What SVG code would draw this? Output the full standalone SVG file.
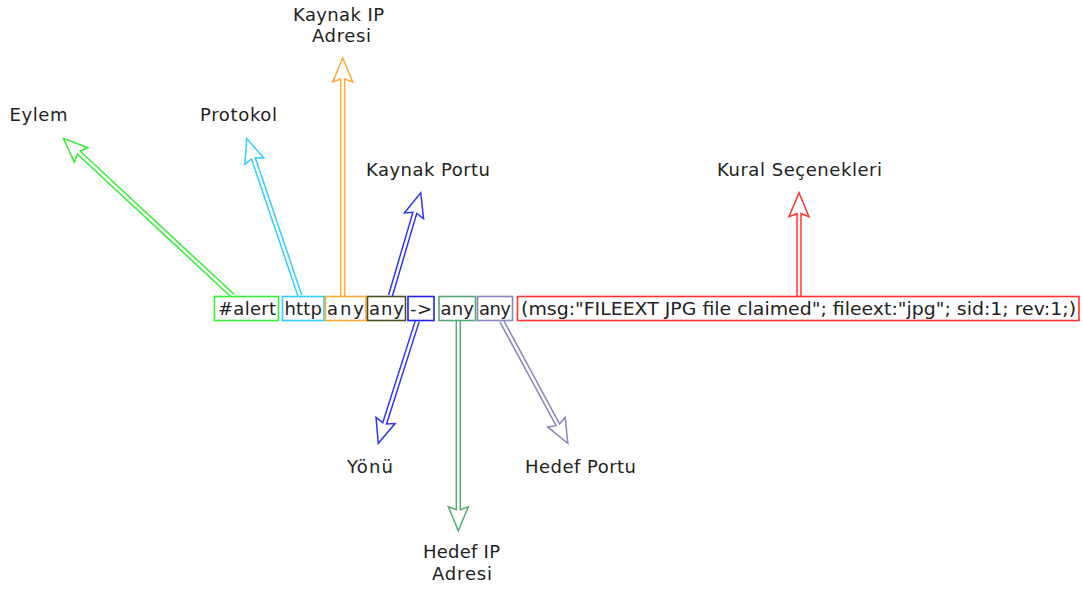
<svg xmlns="http://www.w3.org/2000/svg" width="1083" height="589" viewBox="0 0 1083 589">
<style>
text{font-family:"DejaVu Sans","Liberation Sans",sans-serif;fill:#222}
.box{fill:#fff;stroke-width:1.6}
.bt{font-size:18px}
.lb{font-size:18px}
.arr{fill:none;stroke-width:1.5;stroke-linejoin:miter}
</style>
<rect width="1083" height="589" fill="#fff"/>
<g id="connectors">
<path class="arr" stroke="#33ee33" transform="translate(233,296) rotate(-137.1)" d="M0,-2 H210.4 L207.4,-10 L231.4,0 L207.4,10 L210.4,2 H0"/>
<path class="arr" stroke="#33ccff" transform="translate(300,296) rotate(-108.7)" d="M0,-2 H145.3 L142.3,-10 L166.3,0 L142.3,10 L145.3,2 H0"/>
<path class="arr" stroke="#ffaa33" transform="translate(342.7,296) rotate(-90)" d="M0,-2 H217 L214,-10 L238,0 L214,10 L217,2 H0"/>
<path class="arr" stroke="#3333ff" transform="translate(390.5,295.5) rotate(-73.6)" d="M0,-2 H86.1 L83.1,-10 L107.1,0 L83.1,10 L86.1,2 H0"/>
<path class="arr" stroke="#3333ff" transform="translate(417.3,321) rotate(107.7)" d="M0,-2 H107.4 L104.4,-10 L128.4,0 L104.4,10 L107.4,2 H0"/>
<path class="arr" stroke="#55aa77" transform="translate(458.3,321) rotate(90)" d="M0,-2 H188.7 L185.7,-10 L209.7,0 L185.7,10 L188.7,2 H0"/>
<path class="arr" stroke="#8888bb" transform="translate(501.7,321) rotate(61.6)" d="M0,-2 H118 L115,-10 L139,0 L115,10 L118,2 H0"/>
<path class="arr" stroke="#ff3333" transform="translate(799,296) rotate(-90)" d="M0,-2 H82.3 L79.3,-10 L103.3,0 L79.3,10 L82.3,2 H0"/>
</g>
<g id="n-action"><rect class="box" x="214.5" y="296.5" width="64" height="24" stroke="#33ee33"/><text class="bt" x="218" y="315" textLength="58" lengthAdjust="spacing">#alert</text></g>
<g id="n-proto"><rect class="box" x="282.5" y="296.5" width="41.5" height="24" stroke="#33ccff"/><text class="bt" x="284.5" y="315" textLength="37.5" lengthAdjust="spacing">http</text></g>
<g id="n-srcip"><rect class="box" x="325.5" y="296.5" width="40.5" height="24" stroke="#ffaa33"/><text class="bt" x="327" y="315" textLength="37" lengthAdjust="spacing">any</text></g>
<g id="n-srcport"><rect class="box" x="367.5" y="296.5" width="38" height="24" stroke="#4d4d22"/><text class="bt" x="369" y="315" textLength="35" lengthAdjust="spacing">any</text></g>
<g id="n-dir"><rect class="box" x="408" y="296.5" width="26" height="24" stroke="#2222ee"/><text class="bt" x="410" y="315" textLength="22" lengthAdjust="spacing">-&gt;</text></g>
<g id="n-dstip"><rect class="box" x="439" y="296.5" width="36.5" height="24" stroke="#55aa77"/><text class="bt" x="440.5" y="315" textLength="33.5" lengthAdjust="spacing">any</text></g>
<g id="n-dstport"><rect class="box" x="477.5" y="296.5" width="35" height="24" stroke="#8888bb"/><text class="bt" x="479" y="315" textLength="32" lengthAdjust="spacing">any</text></g>
<g id="n-opts"><rect class="box" x="517.5" y="296.5" width="561.5" height="24" stroke="#ff3333"/><text class="bt" x="521" y="315" textLength="555" lengthAdjust="spacingAndGlyphs">(msg:"FILEEXT JPG file claimed"; fileext:"jpg"; sid:1; rev:1;)</text></g>
<g id="labels">
<text class="lb" x="9.5" y="120.5" textLength="58" lengthAdjust="spacing">Eylem</text>
<text class="lb" x="200" y="120.5" textLength="77" lengthAdjust="spacing">Protokol</text>
<text class="lb" x="293" y="20.5" textLength="91" lengthAdjust="spacing">Kaynak IP</text>
<text class="lb" x="312" y="41.5" textLength="59" lengthAdjust="spacing">Adresi</text>
<text class="lb" x="366" y="176" textLength="124" lengthAdjust="spacing">Kaynak Portu</text>
<text class="lb" x="717" y="176" textLength="165" lengthAdjust="spacing">Kural Seçenekleri</text>
<text class="lb" x="347" y="473" textLength="46" lengthAdjust="spacing">Yönü</text>
<text class="lb" x="525" y="473" textLength="111" lengthAdjust="spacing">Hedef Portu</text>
<text class="lb" x="423" y="558" textLength="77" lengthAdjust="spacing">Hedef IP</text>
<text class="lb" x="432" y="580" textLength="60" lengthAdjust="spacing">Adresi</text>
</g>
</svg>
